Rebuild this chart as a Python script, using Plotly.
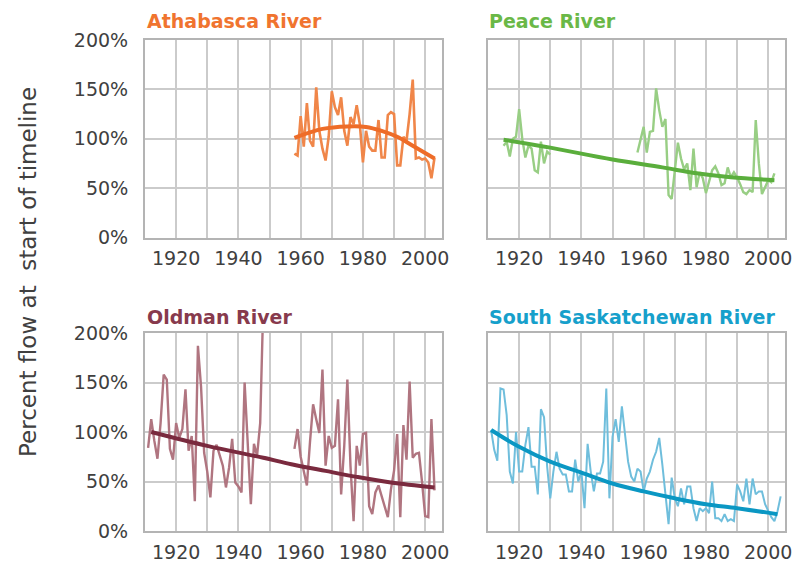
import plotly.graph_objects as go

# ---------------- data ----------------
years_ticks = [1910, 1920, 1930, 1940, 1950, 1960, 1970, 1980, 1990, 2000]
year_labels = ["", "1920", "", "1940", "", "1960", "", "1980", "", "2000"]
pct_ticks = [0, 50, 100, 150, 200]
pct_labels = ["0%", "50%", "100%", "150%", "200%"]

athabasca_start = 1958
athabasca = [85, 83, 123, 92, 136, 98, 92, 152, 108, 90, 78, 102, 148, 132, 124,
             142, 108, 93, 122, 115, 134, 115, 76, 108, 92, 88, 88, 119, 81, 81,
             124, 127, 125, 73, 73, 102, 98, 125, 160, 80, 81, 79, 80, 76, 60, 81]
athabasca_trend_years = [1958, 1967, 1975, 1981, 1986, 1991, 1996, 2003]
athabasca_trend = [101, 110, 112.5, 112, 108, 102, 93, 80]

peace_early_start = 1915
peace_early = [93, 97, 82, 100, 102, 130, 100, 81, 93, 90, 68, 66, 97, 75, 87, 84]
peace_late_start = 1958
peace_late = [86, 100, 112, 86, 107, 108, 151, 129, 112, 120, 43, 39, 68, 96, 80,
              69, 75, 48, 90, 51, 66, 60, 45, 58, 68, 72, 65, 53, 55, 71, 61, 66,
              61, 54, 46, 44, 48, 46, 119, 75, 44, 51, 58, 56, 65]
peace_trend_years = [1915, 1930, 1950, 1966, 1977, 1988, 2002]
peace_trend = [99, 91, 79, 71, 65, 61, 58]

oldman_early_start = 1911
oldman_early = [84, 113, 91, 73, 109, 158, 153, 83, 72, 109, 94, 103, 143, 81, 96,
                30, 187, 146, 79, 60, 34, 81, 87, 75, 66, 44, 64, 93, 49, 45, 39,
                150, 93, 27, 88, 76, 109, 230]
oldman_late_start = 1958
oldman_late = [83, 103, 75, 61, 46, 90, 128, 113, 99, 163, 66, 96, 84, 86, 133,
               37, 86, 153, 66, 10, 86, 66, 98, 99, 25, 17, 39, 46, 35, 24, 14,
               42, 61, 98, 14, 107, 72, 151, 74, 78, 79, 49, 15, 14, 113, 41]
oldman_trend_years = [1912, 1930, 1948, 1957, 1968, 1978, 1989, 2003]
oldman_trend = [100, 86, 74, 67.5, 60.7, 54.7, 49, 44]

ssask_start = 1911
ssask = [102, 82, 71, 144, 143, 117, 60, 48, 100, 60,
         60, 87, 105, 65, 65, 37, 123, 115, 65, 33,
         60, 80, 63, 57, 57, 40, 40, 72, 50, 60,
         23, 88, 60, 40, 58, 58, 70, 144, 33, 95,
         113, 90, 126, 97, 70, 55, 50, 63, 60, 40,
         53, 60, 72, 80, 94, 67, 40, 7, 54, 33,
         25, 43, 27, 45, 45, 23, 10, 23, 20, 23,
         18, 50, 13, 13, 10, 17, 10, 12, 10, 47,
         40, 30, 53, 27, 53, 37, 40, 40, 27, 20,
         14, 10, 20, 35]
ssask_trend_years = [1911, 1920, 1930, 1940, 1950, 1960, 1970, 1980, 1990, 2003]
ssask_trend = [102, 85, 70, 59, 48, 40, 33, 27, 23, 17]

titles = ["Athabasca River", "Peace River", "Oldman River", "South Saskatchewan River"]
y_title = "Percent flow at\u00a0 start of timeline"

# ---------------- styling ----------------
W, H = 800, 563
OFF = 8  # page body margin offset of the plot div
FONT = "DejaVu Sans"
TXT = "#404040"
title_colors = ["#F0742F", "#6AB847", "#873A4D", "#16A0CB"]
data_colors = ["#F08649", "#98CE84", "#B07580", "#6FBEDC"]
trend_colors = ["#EE6C28", "#5AAE3C", "#7A2A3E", "#0A97C3"]

def px_x(p):
    return (p - OFF) / W

def px_y(p):
    return 1 - (p - OFF) / H

x_doms = [(px_x(145), px_x(442)), (px_x(488), px_x(785))]
y_doms = [(px_y(237.5), px_y(40)), (px_y(531), px_y(333))]

fig = go.Figure()

def yrs(start, vals):
    return list(range(start, start + len(vals)))

panels = [
    [(athabasca_start, athabasca)],
    [(peace_early_start, peace_early), (peace_late_start, peace_late)],
    [(oldman_early_start, oldman_early), (oldman_late_start, oldman_late)],
    [(ssask_start, ssask)],
]
trends = [
    (athabasca_trend_years, athabasca_trend),
    (peace_trend_years, peace_trend),
    (oldman_trend_years, oldman_trend),
    (ssask_trend_years, ssask_trend),
]
data_widths = [2.6, 2.4, 2.4, 2.0]

for i in range(4):
    ax = "" if i == 0 else str(i + 1)
    for start, vals in panels[i]:
        fig.add_trace(go.Scatter(
            x=yrs(start, vals), y=vals, mode="lines",
            line=dict(color=data_colors[i], width=data_widths[i]),
            xaxis="x" + ax, yaxis="y" + ax, showlegend=False, hoverinfo="skip"))
    ty, tv = trends[i]
    fig.add_trace(go.Scatter(
        x=ty, y=tv, mode="lines",
        line=dict(color=trend_colors[i], width=4, shape="spline", smoothing=1.0),
        xaxis="x" + ax, yaxis="y" + ax, showlegend=False, hoverinfo="skip"))

layout = dict(
    width=W, height=H, autosize=False,
    margin=dict(l=0, r=0, t=0, b=0, pad=0, autoexpand=False),
    paper_bgcolor="white", plot_bgcolor="white",
    font=dict(family=FONT, color=TXT),
    showlegend=False,
)

for i in range(4):
    col = i % 2
    row = i // 2
    ax = "" if i == 0 else str(i + 1)
    layout["xaxis" + ax] = dict(
        domain=list(x_doms[col]), anchor="y" + ax,
        range=[1910, 2005.4], tickmode="array",
        tickvals=years_ticks, ticktext=year_labels,
        showgrid=True, gridcolor="#CBCBCB", gridwidth=1.5,
        showline=True, linecolor="#B4B4B4", linewidth=2, mirror=True,
        ticks="outside", ticklen=3, tickcolor="rgba(0,0,0,0)",
        tickfont=dict(family=FONT, size=19, color=TXT),
        zeroline=False, fixedrange=True, automargin=False,
    )
    layout["yaxis" + ax] = dict(
        domain=list(y_doms[row]), anchor="x" + ax,
        range=[0, 200], tickmode="array",
        tickvals=pct_ticks, ticktext=pct_labels,
        showticklabels=(col == 0),
        showgrid=True, gridcolor="#CBCBCB", gridwidth=1.5,
        showline=True, linecolor="#B4B4B4", linewidth=2, mirror=True,
        ticks="outside", ticklen=11, tickcolor="rgba(0,0,0,0)",
        tickfont=dict(family=FONT, size=19, color=TXT),
        zeroline=False, fixedrange=True, automargin=False,
    )

layout_annotations = []
title_pos = [(145, 21), (487, 21), (145, 317), (487, 317)]
for i in range(4):
    xp, yp = title_pos[i]
    layout_annotations.append(dict(
        text="<b>" + titles[i] + "</b>", xref="paper", yref="paper",
        x=px_x(xp), y=px_y(yp), xanchor="left", yanchor="middle",
        showarrow=False, font=dict(family=FONT, size=19, color=title_colors[i])))

layout_annotations.append(dict(
    text=y_title, xref="paper", yref="paper",
    x=px_x(28), y=px_y(272), xanchor="center", yanchor="middle",
    textangle=-90, showarrow=False,
    font=dict(family=FONT, size=23, color=TXT)))

layout["annotations"] = layout_annotations
fig.update_layout(**layout)

fig.write_html("out.html")
